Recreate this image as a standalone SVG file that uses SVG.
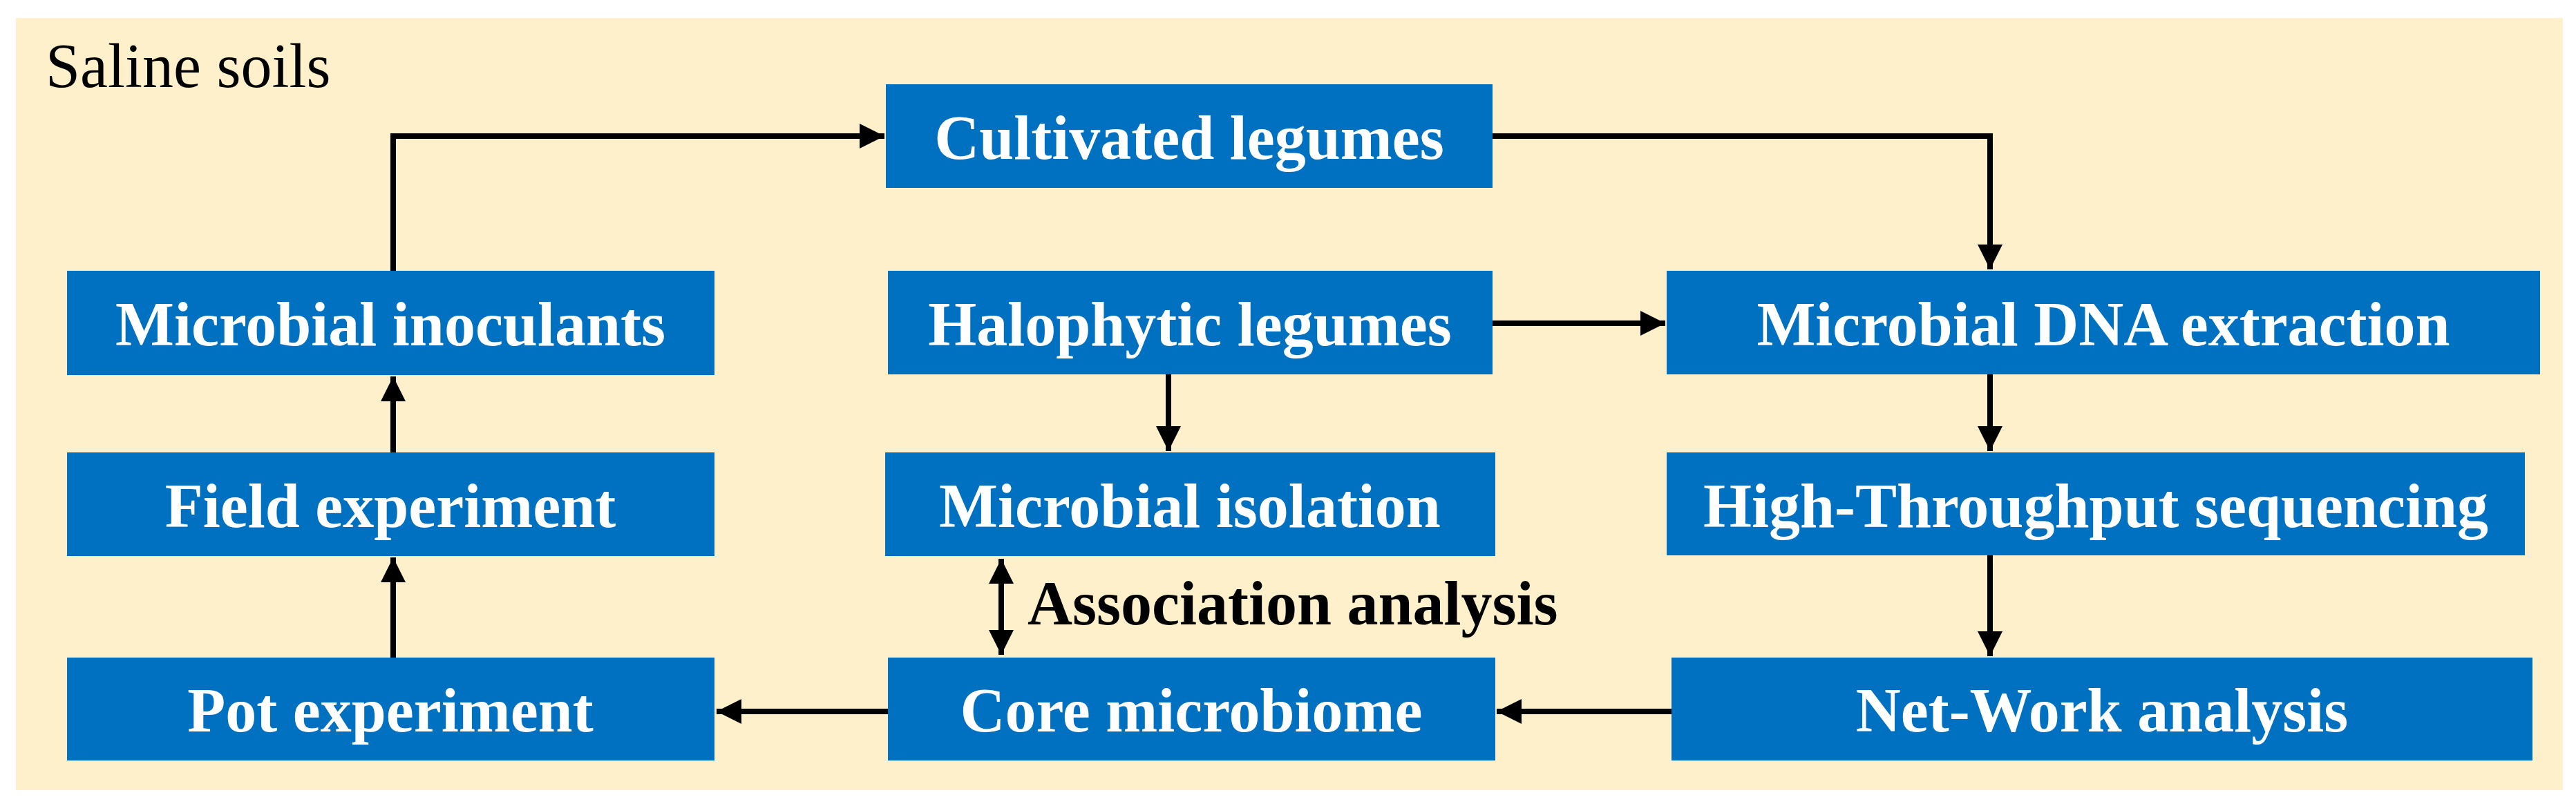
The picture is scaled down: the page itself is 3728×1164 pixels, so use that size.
<svg xmlns="http://www.w3.org/2000/svg" width="3728" height="1164" viewBox="0 0 3728 1164">
<style>
.box{fill:#0070C0}
.t{font-family:"Liberation Serif","Times New Roman",serif;font-weight:bold;font-size:90px;fill:#fff;text-anchor:middle}
.c{fill:none;stroke:#000;stroke-width:8}
</style>
<defs>
<marker id="ah" viewBox="0 0 10 10" refX="10" refY="5" markerWidth="4.5" markerHeight="4.5" orient="auto-start-reverse" markerUnits="strokeWidth">
<path d="M0,0 L10,5 L0,10 Z" fill="#000"/>
</marker>
</defs>
<rect width="3728" height="1164" fill="#fff"/>
<rect x="23" y="26" width="3686" height="1118" fill="#FFF0CC"/>
<text x="66" y="126" font-family="Liberation Serif, Times New Roman, serif" font-size="90">Saline soils</text>
<g id="connectors">
<path class="c" d="M569,392 V197 H1280" marker-end="url(#ah)"/>
<path class="c" d="M2160,197 H2880 V390" marker-end="url(#ah)"/>
<path class="c" d="M2160,468 H2410" marker-end="url(#ah)"/>
<path class="c" d="M1691,542 V653" marker-end="url(#ah)"/>
<path class="c" d="M2880,542 V653" marker-end="url(#ah)"/>
<path class="c" d="M2880,804 V950" marker-end="url(#ah)"/>
<path class="c" d="M2419,1030 H2166" marker-end="url(#ah)"/>
<path class="c" d="M1285,1030 H1037" marker-end="url(#ah)"/>
<path class="c" d="M569,952 V807" marker-end="url(#ah)"/>
<path class="c" d="M569,655 V545" marker-end="url(#ah)"/>
<path class="c" d="M1449,809 V948" marker-start="url(#ah)" marker-end="url(#ah)"/>
<text x="1487" y="904" font-family="Liberation Serif, Times New Roman, serif" font-weight="bold" font-size="90">Association analysis</text>
</g>
<g id="cultivated"><rect class="box" x="1282" y="122" width="878" height="150"/><text class="t" x="1721" y="230">Cultivated legumes</text></g>
<g id="inoculants"><rect class="box" x="97" y="392" width="937" height="151"/><text class="t" x="565" y="500">Microbial inoculants</text></g>
<g id="halophytic"><rect class="box" x="1285" y="392" width="875" height="150"/><text class="t" x="1722" y="500">Halophytic legumes</text></g>
<g id="dna"><rect class="box" x="2412" y="392" width="1264" height="150"/><text class="t" x="3044" y="500">Microbial DNA extraction</text></g>
<g id="field"><rect class="box" x="97" y="655" width="937" height="150"/><text class="t" x="565" y="763">Field experiment</text></g>
<g id="isolation"><rect class="box" x="1281" y="655" width="883" height="150"/><text class="t" x="1722" y="763">Microbial isolation</text></g>
<g id="hts"><rect class="box" x="2412" y="655" width="1242" height="149"/><text class="t" x="3033" y="763">High-Throughput sequencing</text></g>
<g id="pot"><rect class="box" x="97" y="952" width="937" height="149"/><text class="t" x="565" y="1059">Pot experiment</text></g>
<g id="core"><rect class="box" x="1285" y="952" width="879" height="149"/><text class="t" x="1724" y="1059">Core microbiome</text></g>
<g id="network"><rect class="box" x="2419" y="952" width="1246" height="149"/><text class="t" x="3042" y="1059">Net-Work analysis</text></g>
</svg>
